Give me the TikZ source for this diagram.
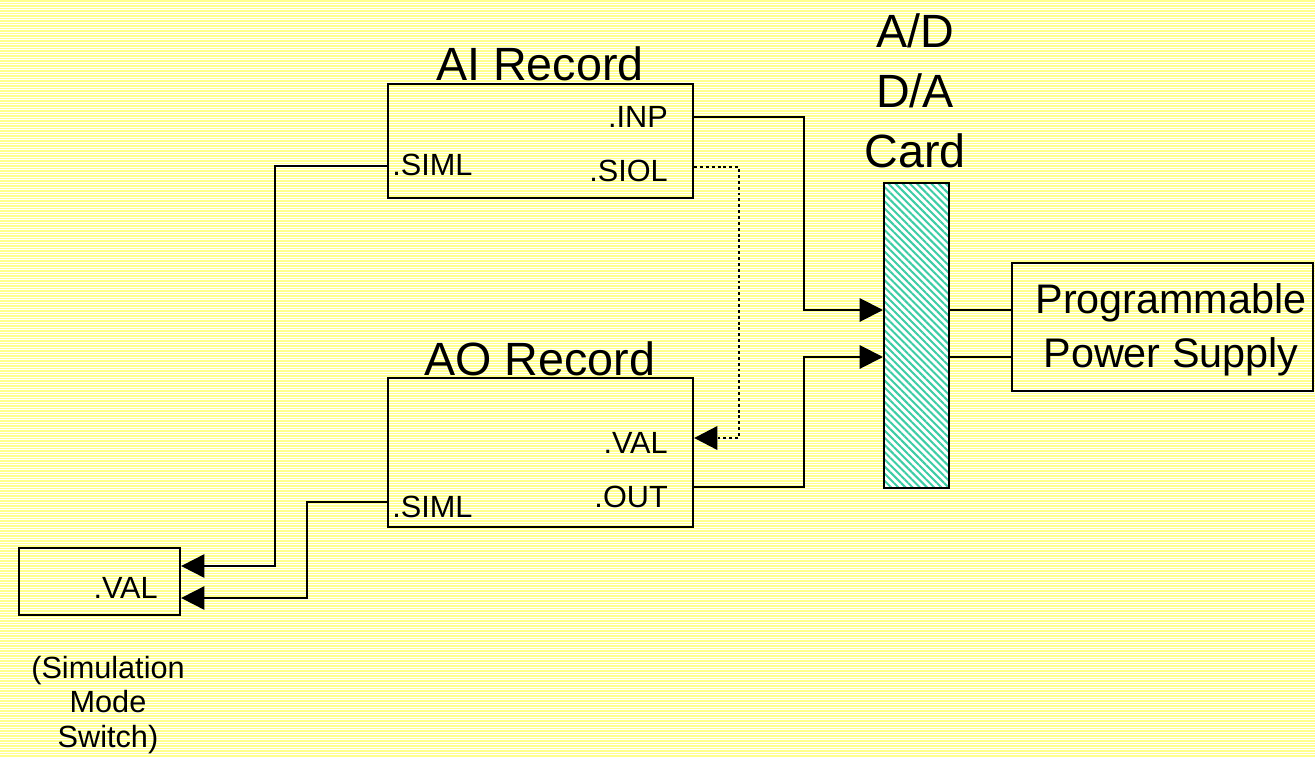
\documentclass[tikz,border=0pt]{standalone}
\usepackage{fontspec}
\setmainfont{Liberation Sans}
\usetikzlibrary{arrows.meta,patterns.meta}
\definecolor{stripe}{RGB}{255,255,140}
\definecolor{hatch}{RGB}{60,205,165}
\begin{document}
\begin{tikzpicture}[x=0.75pt,y=-0.75pt,
 box/.style={draw=black,line width=1.6pt,inner sep=0pt},
 wire/.style={line width=1.5pt,black},
 tip/.style={-{Triangle[length=17.5pt,width=17.5pt]}},
 arr/.style={wire,tip},
 dotwire/.style={line width=2.2pt,black,dash pattern=on 2.2pt off 2.2pt},
 lbl/.style={font=\fontsize{23}{27}\selectfont,inner sep=0pt},
 ttl/.style={font=\fontsize{35}{42}\selectfont,inner sep=0pt},
 pst/.style={font=\fontsize{31}{37}\selectfont,inner sep=0pt},
]
\useasboundingbox (0,0) rectangle (1315,757);
\fill[white] (0,0) rectangle (1315,757);
\foreach \i in {0,...,302} \draw[stripe,line width=0.95pt] (0,\i*2.5+1) -- (1315,\i*2.5+1);

% titles
\node[ttl,anchor=base] (aititle) at (540,80) {AI Record};
\node[ttl,anchor=base] (aotitle) at (540,375) {AO Record};
\node[ttl,anchor=base] (cardt1) at (915,47) {A/D};
\node[ttl,anchor=base] (cardt2) at (915,107) {D/A};
\node[ttl,anchor=base] (cardt3) at (915,167) {Card};

% boxes
\node[box,anchor=north west,minimum width=228.75pt,minimum height=85.5pt] (ai) at (387,83) {};
\node[box,anchor=north west,minimum width=228.75pt,minimum height=111.75pt] (ao) at (387,377) {};
\node[box,anchor=north west,minimum width=48.75pt,minimum height=228.75pt,
      preaction={fill=white},pattern={Lines[angle=-45,distance=3.8pt,line width=1.5pt]},pattern color=hatch] (card) at (883,182) {};
\node[box,anchor=north west,minimum width=225.75pt,minimum height=96pt] (ps) at (1011,262) {};
\node[box,anchor=north west,minimum width=120.75pt,minimum height=50.25pt] (sw) at (18,547) {};

% labels
\node[lbl,anchor=base east] (inp) at (668,127) {.INP};
\node[lbl,anchor=base west] (siml1) at (392,175) {.SIML};
\node[lbl,anchor=base east] (siol) at (668,181) {.SIOL};
\node[lbl,anchor=base east] (aoval) at (668,453) {.VAL};
\node[lbl,anchor=base east] (out) at (668,507) {.OUT};
\node[lbl,anchor=base west] (siml2) at (392,517) {.SIML};
\node[lbl,anchor=base east] (swval) at (158,598) {.VAL};
\node[pst,anchor=base] (ps1) at (1171,313) {Programmable};
\node[pst,anchor=base] (ps2) at (1171,367) {Power Supply};
\node[lbl,anchor=base] (cap1) at (108,678) {(Simulation};
\node[lbl,anchor=base] (cap2) at (108,712) {Mode};
\node[lbl,anchor=base] (cap3) at (108,747) {Switch)};

% port coordinates
\coordinate (pInp) at (ai.east |- 0,117);
\coordinate (pSiol) at (ai.east |- 0,167);
\coordinate (pSiml1) at (ai.west |- 0,166);
\coordinate (pVal) at (ao.east |- 0,438);
\coordinate (pOut) at (ao.east |- 0,487);
\coordinate (pSiml2) at (ao.west |- 0,502);
\coordinate (cIn1) at (card.west |- 0,310);
\coordinate (cIn2) at (card.west |- 0,357);
\coordinate (cOut1) at (card.east |- 0,310);
\coordinate (cOut2) at (card.east |- 0,357);
\coordinate (psIn1) at (ps.west |- 0,310);
\coordinate (psIn2) at (ps.west |- 0,357);
\coordinate (swIn1) at (sw.east |- 0,566);
\coordinate (swIn2) at (sw.east |- 0,598);

% connectors
\draw[arr] (pInp) -| (804,310) -- (cIn1);
\draw[arr] (pOut) -| (804,357) -- (cIn2);
\draw[dotwire,tip] (pSiol) -| (739,438) -- (pVal);
\draw[arr] (pSiml1) -| (275,566) -- (swIn1);
\draw[arr] (pSiml2) -| (307,598) -- (swIn2);
\draw[wire] (cOut1) -- (psIn1);
\draw[wire] (cOut2) -- (psIn2);
\end{tikzpicture}
\end{document}
